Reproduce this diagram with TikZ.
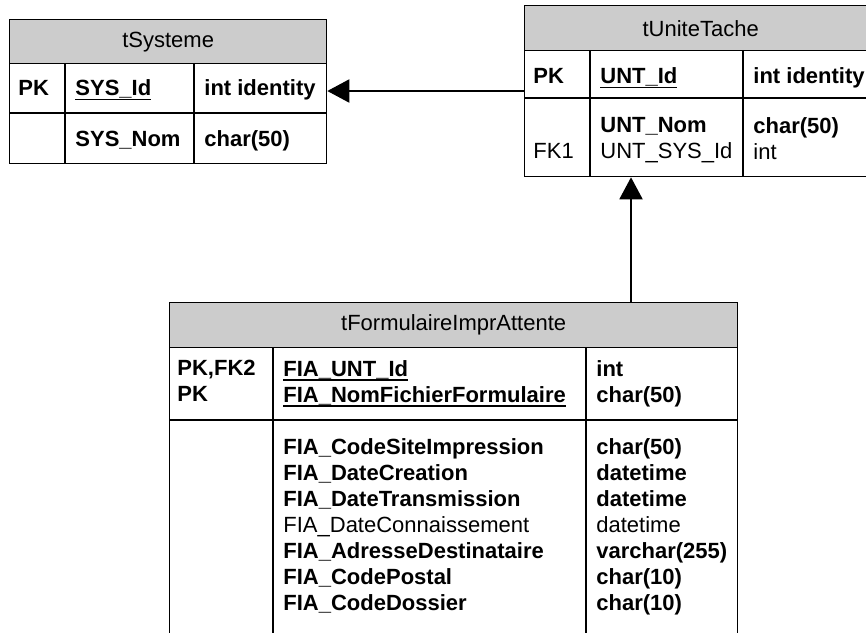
\documentclass[tikz,border=0pt]{standalone}
\usepackage{fontspec}
\setmainfont{Liberation Sans}
\usetikzlibrary{arrows.meta,positioning}
\definecolor{headGray}{RGB}{204,204,204}
\newcommand{\tabfont}{\fontsize{11}{13}\selectfont}
\newcommand{\pkname}[1]{\setbox0\hbox{#1}\rlap{\rule[-2.3pt]{\wd0}{0.75pt}}\box0}

\begin{document}
\begin{tikzpicture}[
    x=0.5pt, y=-0.5pt,
    head/.style={
        rectangle, draw=black, line width=0.65pt, fill=headGray,
        font=\tabfont, inner sep=0pt, anchor=north west
    },
    body/.style={
        rectangle, draw=black, line width=0.65pt, fill=white,
        inner sep=0pt, anchor=north west
    },
    rule/.style={draw=black, line width=0.65pt},
    cell/.style={
        anchor=north west, inner sep=0pt, align=left,
        font=\tabfont\bfseries, execute at begin node=\strut
    },
    plain/.style={cell, font=\tabfont},
    link/.style={-{Triangle[length=11pt,width=11.5pt]}, line width=1pt, draw=black}
]
\useasboundingbox (0,0) rectangle (866,632);
\clip (0,0) rectangle (866,632);

% tSysteme
\node[body, minimum width=158.5pt, minimum height=50pt] (sysBody) at (9,63) {};
\node[head, minimum width=158.5pt, minimum height=22pt] (sysHead) at (9,19) {tSysteme};
\draw[rule] (sysBody.west |- 0,113) -- (sysBody.east |- 0,113);
\draw[rule] (65,63) -- (65,163);
\draw[rule] (194,63) -- (194,163);
\node[cell] (sysKey)  at (18,76.8)  {PK};
\node[cell] (sysId)   at (75,76.8)  {\pkname{SYS\_Id}};
\node[cell] (sysIdT)  at (204,76.8) {int identity};
\node[cell] (sysNom)  at (75,127.8) {SYS\_Nom};
\node[cell] (sysNomT) at (204,127.8) {char(50)};

% tUniteTache
\node[body, minimum width=176pt, minimum height=63pt] (untBody) at (524,50) {};
\node[head, minimum width=176pt, minimum height=22.5pt] (untHead) at (524,5) {tUniteTache};
\draw[rule] (untBody.west |- 0,98) -- (untBody.east |- 0,98);
\draw[rule] (590,50) -- (590,176);
\draw[rule] (743,50) -- (743,176);
\node[cell] (untKey)  at (533,64.8)  {PK};
\node[cell] (untId)   at (600,64.8)  {\pkname{UNT\_Id}};
\node[cell] (untIdT)  at (753,64.8)  {int identity};
\node[plain] (untFk)  at (533,116.8) {\phantom{F}\\FK1};
\node[cell] (untCols) at (600,116.8) {UNT\_Nom\\{\mdseries UNT\_SYS\_Id}};
\node[cell] (untType) at (753,116.8) {char(50)\\{\mdseries int}};

% tFormulaireImprAttente
\node[body, minimum width=284pt, minimum height=146.5pt] (fiaBody) at (169,347) {};
\node[head, minimum width=284pt, minimum height=22.5pt] (fiaHead) at (169,302) {tFormulaireImprAttente};
\draw[rule] (fiaBody.west |- 0,420) -- (fiaBody.east |- 0,420);
\draw[rule] (273,347) -- (273,640);
\draw[rule] (586,347) -- (586,640);
\node[cell] (fiaKeys)  at (177,359.8) {PK,FK2\\PK};
\node[cell] (fiaIds)   at (283,359.8) {\pkname{FIA\_UNT\_Id}\\\pkname{FIA\_NomFichierFormulaire}};
\node[cell] (fiaIdsT)  at (596,359.8) {int\\char(50)};
\node[cell] (fiaCols)  at (283,437.8) {FIA\_CodeSiteImpression\\FIA\_DateCreation\\FIA\_DateTransmission\\{\mdseries FIA\_DateConnaissement}\\FIA\_AdresseDestinataire\\FIA\_CodePostal\\FIA\_CodeDossier};
\node[cell] (fiaColsT) at (596,437.8) {char(50)\\datetime\\datetime\\{\mdseries datetime}\\varchar(255)\\char(10)\\char(10)};

% relations
\draw[link] (untBody.west |- 0,91) -- (sysBody.east |- 0,91);
\draw[link] (fiaHead.north -| 631,0) -- (untBody.south -| 631,0);

\end{tikzpicture}
\end{document}
